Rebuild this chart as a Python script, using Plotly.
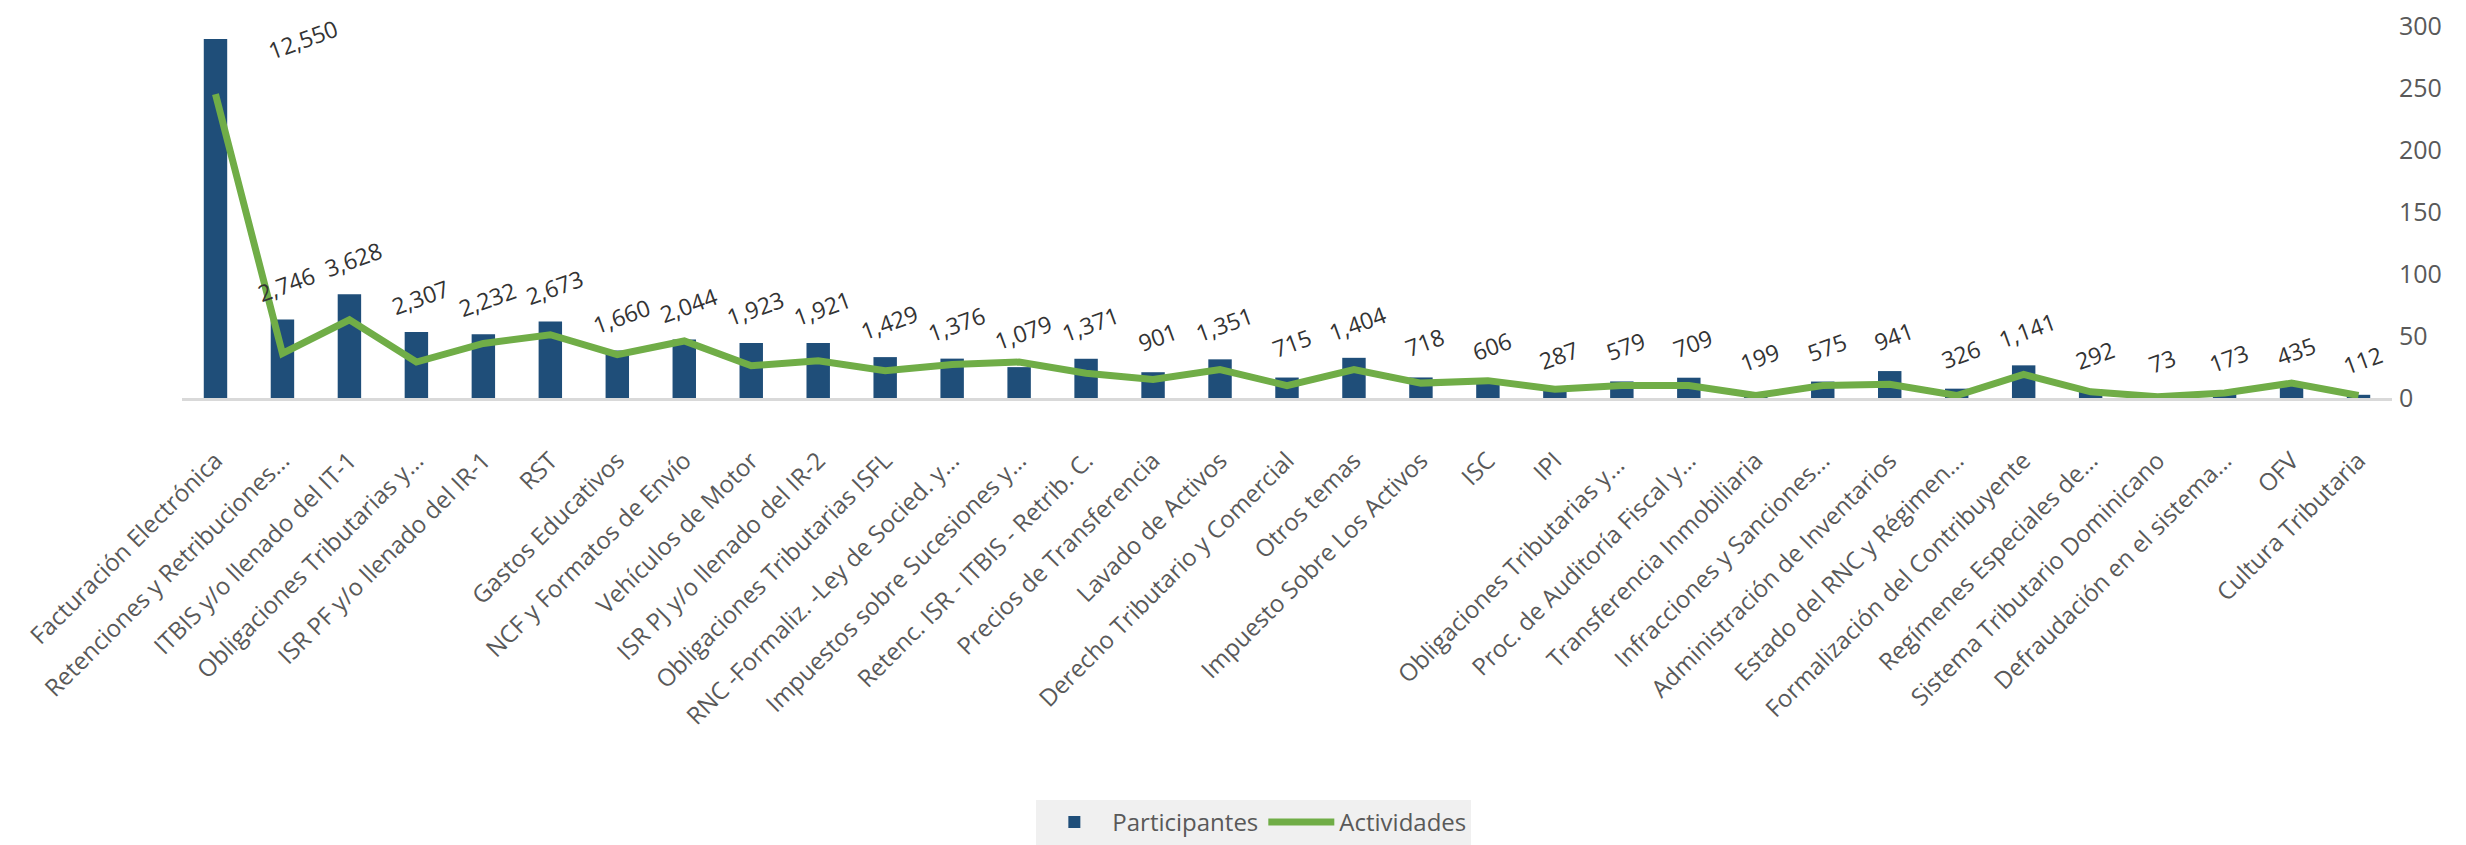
import plotly.graph_objects as go

categories = [
    "Facturación Electrónica",
    "Retenciones y Retribuciones...",
    "ITBIS y/o llenado del IT-1",
    "Obligaciones Tributarias y...",
    "ISR PF y/o llenado del IR-1",
    "RST",
    "Gastos Educativos",
    "NCF y Formatos de Envío",
    "Vehículos de Motor",
    "ISR PJ y/o llenado del IR-2",
    "Obligaciones Tributarias ISFL",
    "RNC -Formaliz. -Ley de Socied. y...",
    "Impuestos sobre Sucesiones y...",
    "Retenc. ISR - ITBIS - Retrib. C.",
    "Precios de Transferencia",
    "Lavado de Activos",
    "Derecho Tributario y Comercial",
    "Otros temas",
    "Impuesto Sobre Los Activos",
    "ISC",
    "IPI",
    "Obligaciones Tributarias y... ",
    "Proc. de Auditoría Fiscal y...",
    "Transferencia Inmobiliaria",
    "Infracciones y Sanciones...",
    "Administración de Inventarios",
    "Estado del RNC y Régimen...",
    "Formalización del Contribuyente",
    "Regímenes Especiales de...",
    "Sistema Tributario Dominicano",
    "Defraudación en el sistema...",
    "OFV",
    "Cultura Tributaria",
]

participantes = [12550, 2746, 3628, 2307, 2232, 2673, 1660, 2044, 1923, 1921,
                 1429, 1376, 1079, 1371, 901, 1351, 715, 1404, 718, 606,
                 287, 579, 709, 199, 575, 941, 326, 1141, 292, 73,
                 173, 435, 112]

actividades = [245, 36, 63, 29, 44, 51, 35, 46, 26, 30,
               22, 27, 29, 20, 15, 23, 10, 23, 12, 14,
               7, 10, 10, 2, 10, 11, 2, 19, 5, 1,
               4, 12, 2]

right_ticks = [0, 50, 100, 150, 200, 250, 300]

FONT = "Open Sans"
BAR_COLOR = "#1f4e79"
LINE_COLOR = "#70ad47"

fig = go.Figure()
fig.add_trace(go.Bar(
    x=categories, y=participantes, name="Participantes",
    marker=dict(color=BAR_COLOR, line=dict(width=0)),
    yaxis="y",
))
fig.add_trace(go.Scatter(
    x=categories, y=actividades, name="Actividades",
    mode="lines", line=dict(color=LINE_COLOR, width=7),
    yaxis="y2",
))

annotations = []
for i, (c, v) in enumerate(zip(categories, participantes)):
    annotations.append(dict(
        x=c, y=v, xref="x", yref="y",
        text=f"{v:,}", showarrow=False, textangle=-20,
        font=dict(family=FONT, size=23, color="#333333"),
        xshift=88 if i == 0 else 4,
        yshift=0 if i == 0 else 35,
    ))

fig.update_layout(
    width=2466, height=845,
    margin=dict(l=174, r=82, t=18, b=455, autoexpand=False),
    paper_bgcolor="white", plot_bgcolor="white",
    bargap=0.65,
    font=dict(family=FONT, color="#595959"),
    showlegend=True,
    legend=dict(
        orientation="h", x=0.485, xanchor="center",
        yref="container", y=0.0095, yanchor="bottom",
        bgcolor="#f0f0f0", font=dict(family=FONT, size=24, color="#595959"),
        itemwidth=66, tracegroupgap=0,
    ),
    xaxis=dict(
        type="category", tickangle=-45, showgrid=False,
        showline=True, linecolor="#d9d9d9", linewidth=3,
        ticks="", ticklabelstandoff=36,
        tickfont=dict(family=FONT, size=24, color="#595959"),
    ),
    yaxis=dict(range=[0, 13000], visible=False, showgrid=False),
    yaxis2=dict(
        range=[0, 300], overlaying="y", side="right",
        tickvals=right_ticks, showgrid=False, zeroline=False,
        showline=False, ticks="", ticklabelstandoff=6,
        ticklabeloverflow="allow",
        tickfont=dict(family=FONT, size=25, color="#595959"),
    ),
    annotations=annotations,
)

fig.write_html("out.html")
